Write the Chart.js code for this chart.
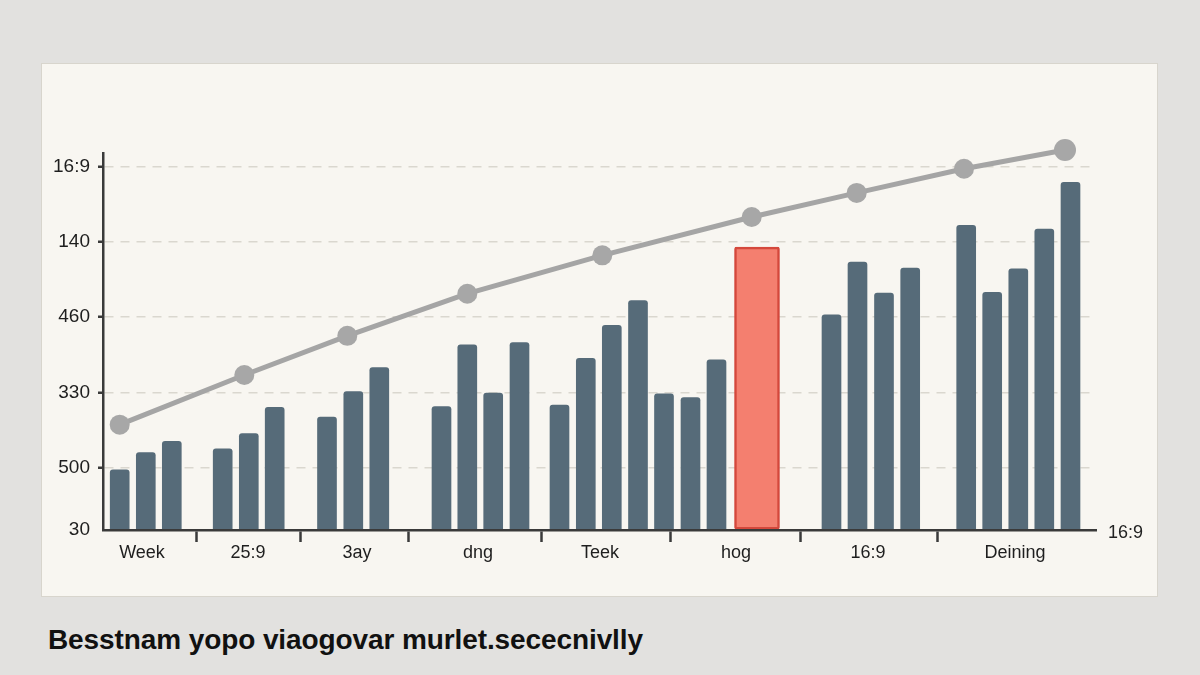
<!DOCTYPE html>
<html>
<head>
<meta charset="utf-8">
<script src="https://cdn.jsdelivr.net/npm/chart.js@4/dist/chart.umd.min.js"></script>
<style>
  html, body { margin: 0; padding: 0; }
  body { width: 1200px; height: 675px; background: #e2e1df; position: relative; overflow: hidden; font-family: "Liberation Sans", Arial, sans-serif; }
  .card { position: absolute; left: 41px; top: 63px; width: 1115px; height: 532px; background: #f8f6f1; border: 1px solid #d8d5cd; }
  #chart { position: absolute; left: 42px; top: 64px; }
  .title { position: absolute; left: 48px; top: 624px; font-size: 28px; font-weight: bold; color: #111; letter-spacing: -0.1px; }
</style>
</head>
<body>
<div class="card"></div>
<canvas id="chart" width="1115" height="532"></canvas>
<div class="title">Besstnam yopo viaogovar murlet.sececnivlly</div>
<script>
// bars (x = position along the axis, y = value)
const barPositions = [16.7, 42.8, 68.8, 119.7, 145.8, 171.7, 224, 250.3, 276.3,
  338.5, 364.3, 390.2, 416.5, 456.5, 482.8, 508.8, 535, 561, 587.5, 613.5,
  728.5, 754.5, 781, 807.2, 863.2, 889.2, 915.3, 941.3, 967.5];
const barValues = [80, 103, 118, 108, 128, 163, 150, 184, 216,
  164, 246, 182, 249, 166, 228, 272, 305, 181, 176, 226,
  286, 356, 315, 348, 405, 316, 347, 400, 462];

// highlighted bar
const highlightPosition = [654];
const highlightValue = [376];

// trend line
const linePositions = [16.7, 141.3, 244.3, 364.3, 499.3, 648.7, 753.7, 861, 962];
const lineValues = [140, 206, 258, 314, 365, 416, 448, 480, 505];

// axes
const xLabels = ['Week', '25:9', '3ay', 'dng', 'Teek', 'hog', '16:9', 'Deining'];
const xLabelPositions = [39, 145, 254, 375, 497, 633, 765, 912];
const xTickMarks = [93, 197, 305, 438, 567, 697, 834];
const yTickValues = [0, 83, 183, 283, 383, 483];
const yTickLabels = ['30', '500', '330', '460', '140', '16:9'];
const xEndLabel = '16:9';

const toPoints = (xs, ys) => xs.map((x, i) => ({ x: x, y: ys[i] }));

const endLabel = {
  id: 'endLabel',
  afterDraw(chart) {
    const { ctx, chartArea } = chart;
    ctx.save();
    ctx.font = '18px "Liberation Sans", Arial, sans-serif';
    ctx.fillStyle = '#222';
    ctx.textBaseline = 'middle';
    ctx.fillText(xEndLabel, chartArea.right + 12, chartArea.bottom + 3);
    ctx.restore();
  }
};

new Chart(document.getElementById('chart'), {
  type: 'bar',
  data: {
    datasets: [
      {
        type: 'line',
        data: toPoints(linePositions, lineValues),
        borderColor: '#a5a5a5',
        borderWidth: 5,
        pointRadius: lineValues.map((v, i) => i === lineValues.length - 1 ? 11 : 10),
        pointBackgroundColor: '#a7a7a7',
        pointBorderWidth: 0,
        tension: 0,
        clip: false,
        order: 0
      },
      {
        data: toPoints(barPositions, barValues),
        backgroundColor: '#566b79',
        barThickness: 19,
        borderRadius: 3,
        borderSkipped: 'start',
        stack: 'a',
        order: 1
      },
      {
        data: toPoints(highlightPosition, highlightValue),
        backgroundColor: '#f47f6f',
        borderColor: '#d4483c',
        borderWidth: 2.5,
        borderRadius: 2,
        borderSkipped: false,
        barThickness: 45,
        stack: 'a',
        order: 1
      }
    ]
  },
  options: {
    responsive: false,
    animation: false,
    devicePixelRatio: 1,
    layout: { padding: { left: 0, right: 61, top: 89, bottom: 26 } },
    plugins: { legend: { display: false }, tooltip: { enabled: false } },
    scales: {
      x: {
        type: 'linear',
        min: 0,
        max: 993,
        offset: false,
        afterFit: (s) => { s.height = 40; },
        afterBuildTicks: (s) => {
          s.ticks = xTickMarks.map(v => ({ value: v, mark: true }))
            .concat(xLabelPositions.map((v, i) => ({ value: v, name: xLabels[i] })));
        },
        ticks: {
          autoSkip: false,
          maxRotation: 0,
          padding: 0,
          color: '#1e1e1e',
          font: { size: 18, family: '"Liberation Sans", Arial, sans-serif' },
          callback: (v, i, ticks) => ticks[i].name || ''
        },
        grid: {
          offset: false,
          drawOnChartArea: false,
          tickLength: 12,
          tickWidth: 2.5,
          tickColor: (c) => (c.tick && c.tick.mark) ? '#3a3a3a' : 'rgba(0,0,0,0)'
        },
        border: { color: '#3a3a3a', width: 2.5, z: 1 }
      },
      y: {
        min: 0,
        max: 501,
        stacked: false,
        afterFit: (s) => { s.width = 61; },
        afterBuildTicks: (s) => { s.ticks = yTickValues.map(v => ({ value: v })); },
        ticks: {
          padding: 8,
          color: '#1e1e1e',
          font: { size: 19, family: '"Liberation Sans", Arial, sans-serif' },
          callback: (v) => yTickLabels[yTickValues.indexOf(v)]
        },
        grid: {
          color: (c) => c.tick && c.tick.value === 0 ? 'rgba(0,0,0,0)' : '#dad7cf',
          lineWidth: 1.5,
          tickLength: 5,
          tickWidth: 2.5,
          tickColor: (c) => c.tick && c.tick.value === 0 ? 'rgba(0,0,0,0)' : '#3a3a3a'
        },
        border: { color: '#3a3a3a', width: 2.5, dash: [9, 7], z: 1 }
      }
    }
  },
  plugins: [endLabel]
});
</script>
</body>
</html>
